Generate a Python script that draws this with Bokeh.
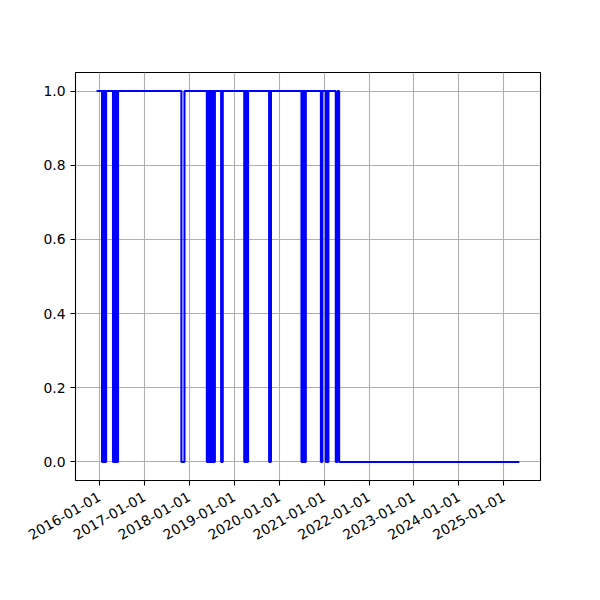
import math
import pandas as pd
from bokeh.plotting import figure
from bokeh.models import Range1d, FixedTicker, DatetimeTickFormatter, PrintfTickFormatter
from bokeh.embed import file_html
from bokeh.resources import INLINE

# ---- data ----
start_date = "2015-12-10"
end_date = "2025-05-07"

# single days on which the series is 0
zero_days = [
    "2016-01-23", "2016-01-27", "2016-01-31", "2016-02-04", "2016-02-08", "2016-02-12",
    "2016-02-16", "2016-02-20", "2016-02-24",
    "2016-04-21", "2016-04-25", "2016-04-29", "2016-05-03", "2016-05-07", "2016-05-11",
    "2016-05-15", "2016-05-19", "2016-05-23", "2016-05-27", "2016-05-31",
    "2018-05-24", "2018-05-28", "2018-06-01", "2018-06-05", "2018-06-09", "2018-06-13",
    "2018-06-17", "2018-06-21", "2018-06-25", "2018-06-29", "2018-07-03", "2018-07-07",
    "2018-07-11", "2018-07-15", "2018-07-19", "2018-07-23", "2018-07-27",
    "2018-09-17", "2018-09-22", "2018-09-29",
    "2019-03-24", "2019-03-29", "2019-04-03", "2019-04-08", "2019-04-13", "2019-04-18",
    "2019-04-23",
    "2019-10-12", "2019-10-19", "2019-10-26",
    "2020-07-01", "2020-07-06", "2020-07-11", "2020-07-16", "2020-07-21", "2020-07-26",
    "2020-07-31", "2020-08-04",
    "2020-12-06", "2020-12-11", "2020-12-17",
    "2021-01-15", "2021-01-20", "2021-01-25", "2021-01-30", "2021-02-04",
]
# longer stretches of 0 (first day, last day)
zero_run_start = ["2017-10-29", "2021-04-06", "2021-05-03"]
zero_run_end = ["2017-11-22", "2021-04-19", "2025-05-07"]

x_tick_dates = ["2016-01-01", "2017-01-01", "2018-01-01", "2019-01-01", "2020-01-01",
                "2021-01-01", "2022-01-01", "2023-01-01", "2024-01-01", "2025-01-01"]
y_ticks = [0.0, 0.2, 0.4, 0.6, 0.8, 1.0]

# ---- build step vertices ----
runs = [(pd.Timestamp(d), pd.Timestamp(d)) for d in zero_days]
runs += [(pd.Timestamp(s), pd.Timestamp(e)) for s, e in zip(zero_run_start, zero_run_end)]
runs.sort()
end_ts = pd.Timestamp(end_date)
xs = [pd.Timestamp(start_date)]
ys = [1]
for s, e in runs:
    xs.append(s); ys.append(0)
    if e < end_ts:
        xs.append(e + pd.Timedelta(days=1)); ys.append(1)
xs.append(end_ts); ys.append(0)

def ms(t):
    return pd.Timestamp(t).value / 1e6

x0, x1 = ms(start_date), ms(end_date)
span = x1 - x0

W, H = 592, 592
p = figure(width=W, height=H, x_axis_type="datetime", output_backend="svg",
           toolbar_location=None,
           x_range=Range1d(x0 - 0.05 * span, x1 + 0.05 * span),
           y_range=Range1d(-0.05, 1.05),
           min_border_left=75, min_border_right=52, min_border_top=72, min_border_bottom=112)

p.step(x=[ms(t) for t in xs], y=ys, mode="after", line_color="#0000ff", line_width=2.1)

fmt = "%Y-%m-%d"
p.xaxis.ticker = FixedTicker(ticks=[ms(d) for d in x_tick_dates])
p.xaxis.formatter = DatetimeTickFormatter(years=fmt, months=fmt, days=fmt, hours=fmt,
                                          minutes=fmt, seconds=fmt, milliseconds=fmt,
                                          minsec=fmt, hourmin=fmt, microseconds=fmt)
p.xaxis.major_label_orientation = math.pi / 6
p.yaxis.ticker = FixedTicker(ticks=y_ticks)
p.yaxis.formatter = PrintfTickFormatter(format="%.1f")

for ax in (p.xaxis, p.yaxis):
    ax.major_label_text_font = "DejaVu Sans"
    ax.major_label_text_font_size = "13.9px"
    ax.major_label_text_color = "black"
    ax.major_tick_out = 5
    ax.major_tick_in = 0
    ax.major_tick_line_width = 1.1
    ax.major_tick_line_color = "black"
    ax.minor_tick_line_color = None
    ax.axis_line_color = None
    ax.major_label_standoff = 5
p.xaxis.major_label_standoff = 10

p.xgrid.grid_line_color = "#b0b0b0"
p.ygrid.grid_line_color = "#b0b0b0"
p.xgrid.grid_line_width = 1.1
p.ygrid.grid_line_width = 1.1
p.outline_line_color = "black"
p.outline_line_width = 1.1
p.outline_line_alpha = 1.0
p.background_fill_color = "white"
p.border_fill_color = "white"

open("out.html", "w").write(file_html(p, INLINE))
